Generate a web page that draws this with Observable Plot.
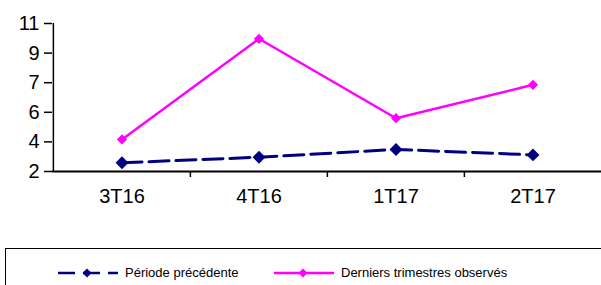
<!DOCTYPE html>
<html><head><meta charset="utf-8">
<script src="https://cdn.jsdelivr.net/npm/d3@7"></script>
<script src="https://cdn.jsdelivr.net/npm/@observablehq/plot@0.6"></script>
<style>
body{margin:0;background:#fff;font-family:Arial,"Liberation Sans",sans-serif;}
#wrap{position:relative;width:601px;height:285px;overflow:hidden;}
#legend{position:absolute;left:5px;top:248px;width:620px;height:60px;border:1px solid #000;box-sizing:border-box;}
.item{position:absolute;top:16px;display:flex;align-items:center;font-size:13px;color:#000;}
.item svg{margin-right:6px;}
</style></head>
<body><div id="wrap"><div id="chart"></div><div id="legend"></div></div>
<script>
const categories = ["3T16","4T16","1T17","2T17"];
const previousPeriod = [2.53, 2.87, 3.34, 3.01];
const latestQuarters = [3.95, 10.07, 5.24, 7.27];
const yTicks = [2, 3.8, 5.6, 7.4, 9.2, 11];
const seriesNames = ["Période précédente", "Derniers trimestres observés"];

const prev = categories.map((c,i)=>({cat:c, v:previousPeriod[i]}));
const last = categories.map((c,i)=>({cat:c, v:latestQuarters[i]}));

const W = 601, ML = 52, MR = 0;
const bw = (W - ML - MR) / categories.length;
const navy = "#000080", pink = "#FF00FF";

const chart = Plot.plot({
  width: W, height: 245,
  marginTop: 23, marginBottom: 74, marginLeft: ML, marginRight: MR,
  style: {fontFamily: 'Arial, "Liberation Sans", sans-serif', fontSize: "20px", color: "#000", background: "#fff"},
  x: {type: "band", domain: categories, padding: 0, axis: null, label: null},
  y: {domain: [2, 11], axis: null, label: null},
  marks: [
    Plot.axisY({ticks: yTicks, tickFormat: d => Math.round(d), tickSize: 8, tickPadding: 5, fontSize: 20, stroke: "#000", strokeWidth: 1.5, label: null}),
    Plot.ruleX([0], {x: () => categories[0], dx: -bw/2, y1: 2, y2: 11, stroke: "#000", strokeWidth: 1.5}),
    Plot.ruleY([2], {stroke: "#000", strokeWidth: 2}),
    Plot.ruleX(categories.slice(1), {x: d => d, dx: -bw/2, insetTop: 148, insetBottom: -6, stroke: "#000", strokeWidth: 1.5}),
    Plot.axisX({tickSize: 0, tickPadding: 17, fontSize: 20, label: null}),
    Plot.line(prev, {x: "cat", y: "v", stroke: navy, strokeWidth: 3, strokeDasharray: "20,7"}),
    Plot.dot(prev, {x: "cat", y: "v", symbol: "diamond2", r: 5.8, fill: navy, stroke: "none"}),
    Plot.line(last, {x: "cat", y: "v", stroke: pink, strokeWidth: 2.5}),
    Plot.dot(last, {x: "cat", y: "v", symbol: "diamond2", r: 4.6, fill: pink, stroke: "none"})
  ]
});
document.getElementById("chart").appendChild(chart);

const legend = document.getElementById("legend");
const items = [
  {name: seriesNames[0], color: navy, dash: "17,8", left: 51, r: 4.5},
  {name: seriesNames[1], color: pink, dash: null, left: 267, r: 4.5}
];
for (const it of items) {
  const div = document.createElement("div");
  div.className = "item";
  div.style.left = it.left + "px";
  div.innerHTML = `<svg width="62" height="12"><line x1="1" y1="6" x2="61" y2="6" stroke="${it.color}" stroke-width="2.5" ${it.dash ? `stroke-dasharray="${it.dash}"` : ""}/><path d="M30,${6-it.r}L${30+it.r},6L30,${6+it.r}L${30-it.r},6Z" fill="${it.color}"/></svg><span>${it.name}</span>`;
  legend.appendChild(div);
}
</script></body></html>
